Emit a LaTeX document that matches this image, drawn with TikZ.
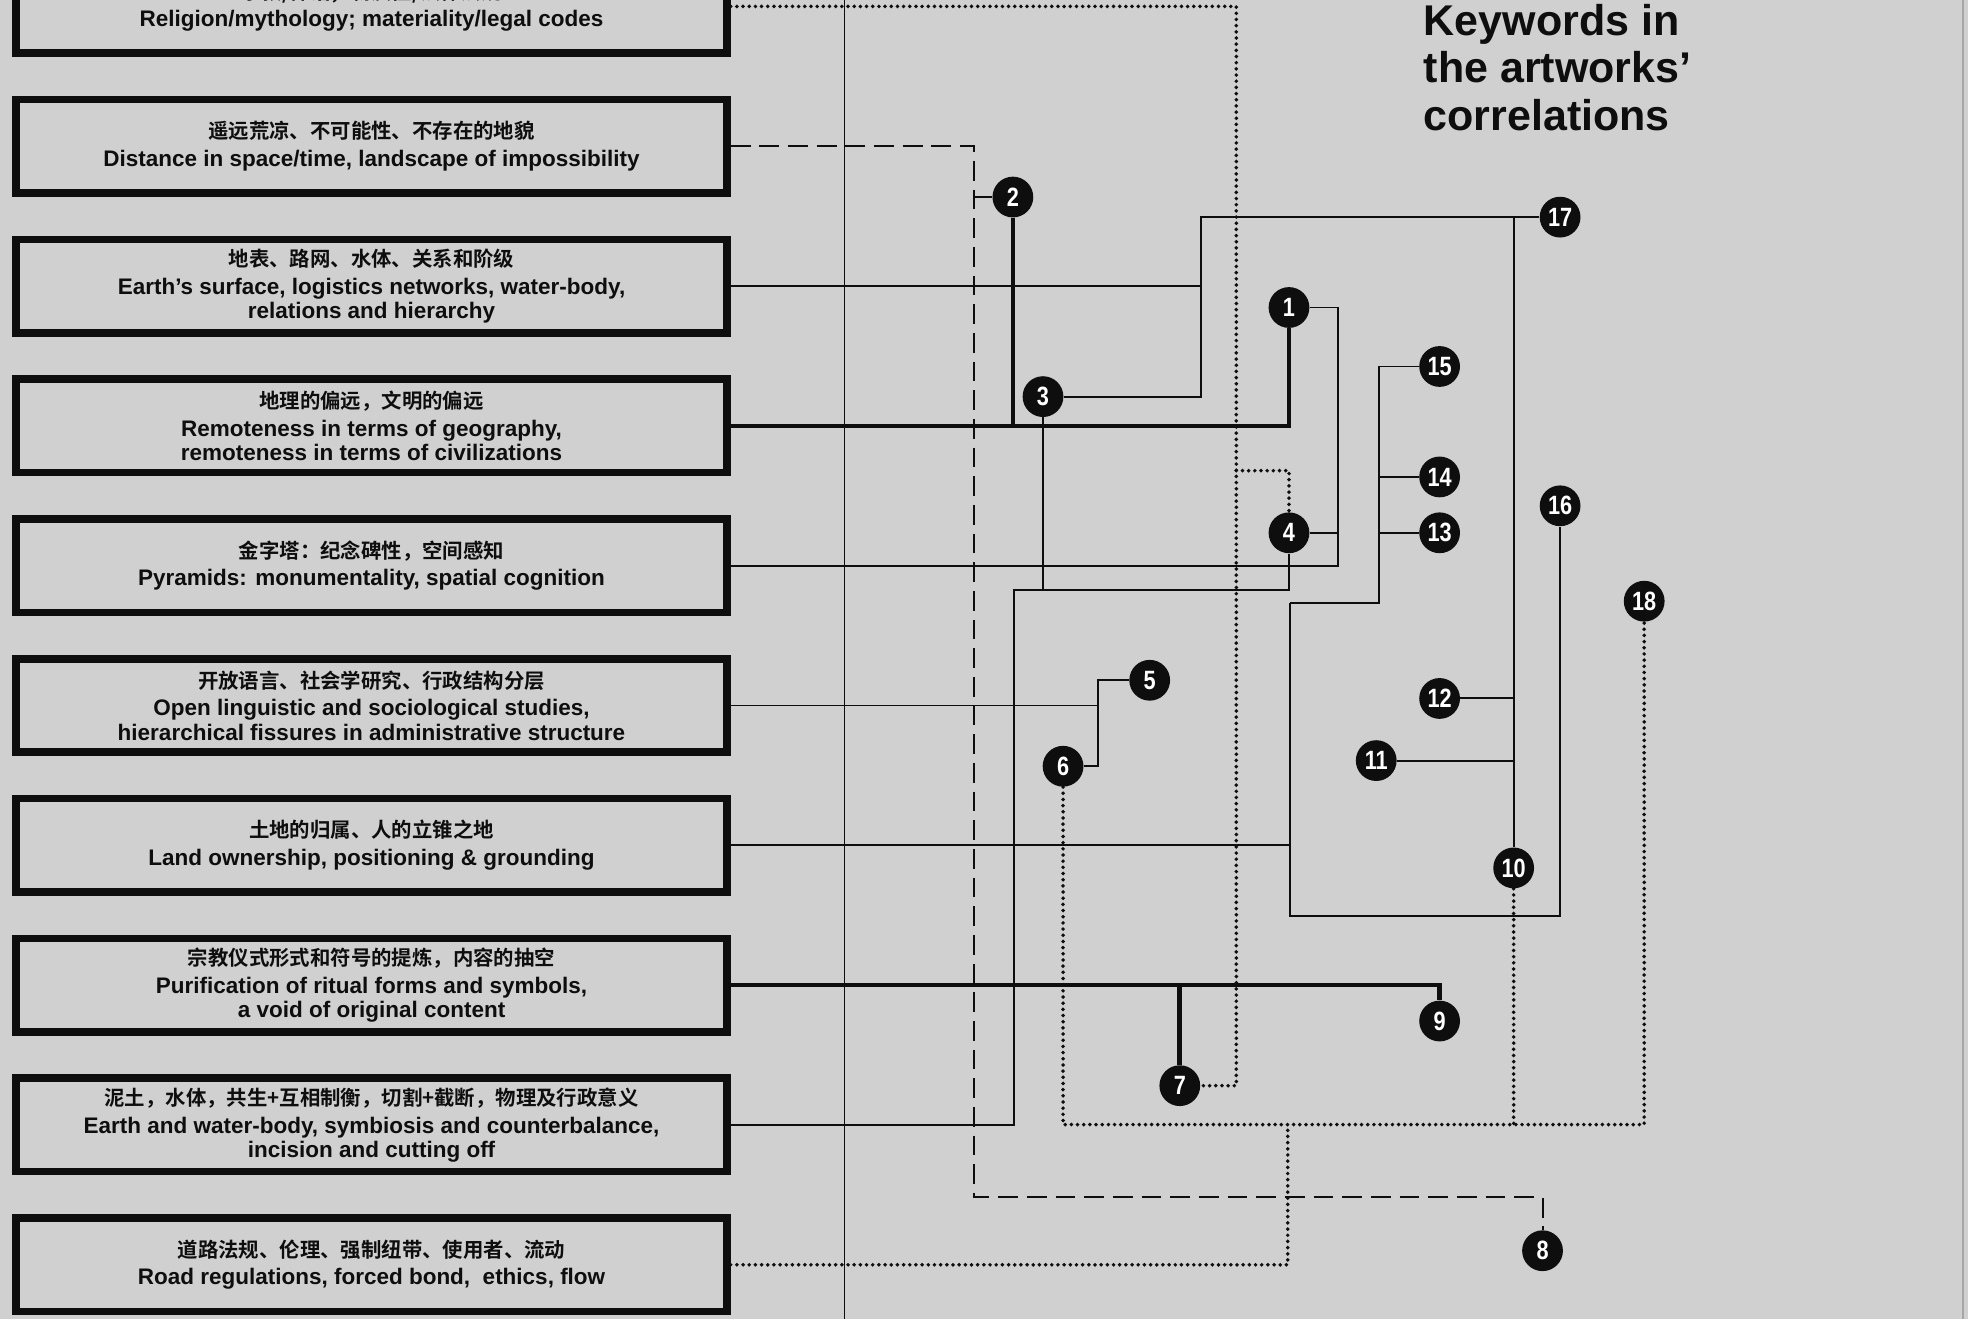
\documentclass[tikz,border=0pt]{standalone}
\usepackage{fontspec}
\setmainfont{Liberation Sans}
\newfontfamily\cjkfont{Noto Sans CJK SC}[BoldFont={* Bold}]
\newfontfamily\numfont{Liberation Sans}[FakeStretch=0.82]
\usetikzlibrary{positioning}
\definecolor{kwpaper}{HTML}{D0D0D0}
\definecolor{kwink}{HTML}{0E0E0E}

\begin{document}
\begin{tikzpicture}[x=0.02cm,y=-0.02cm,
  kwbox/.style={draw=kwink,line width=3.4pt,minimum width=11.33cm,minimum height=1.49cm,align=center,inner sep=0pt,text=kwink,font=\bfseries\fontsize{10.2}{11}\selectfont},
  numdot/.style={circle,fill=kwink,text=white,minimum size=0.65cm,inner sep=0pt,font=\numfont\bfseries\fontsize{12}{12}\selectfont},
  thinln/.style={draw=kwink,line width=0.9pt},
  thickln/.style={draw=kwink,line width=2.1pt},
  dotln/.style={draw=kwink,line width=1.8pt,line cap=round,dash pattern=on 0pt off 2.8pt},
  dashln/.style={draw=kwink,line width=0.9pt,dash pattern=on 9pt off 4pt}]
  \useasboundingbox (0,0) rectangle (1568,1051);
  \fill[kwpaper] (0,0) rectangle (1568,1051);
  \draw[kwink,line width=0.4pt] (673,0) -- (673,1051);
  \draw[black!35,line width=0.5pt] (1564,0) -- (1564,1051);

  % keyword boxes
  \node[kwbox] (k1) at (296,5.1) {{\cjkfont\fontsize{9.25}{11}\selectfont 宗教/神话；物质性/法律法规}\\[1.5pt]Religion/mythology; materiality/legal codes};
  \node[kwbox] (k2) at (296,116.5) {{\cjkfont\fontsize{9.25}{11}\selectfont 遥远荒凉、不可能性、不存在的地貌}\\[1.5pt]Distance in space/time, landscape of impossibility};
  \node[kwbox] (k3) at (296,227.9) {{\cjkfont\fontsize{9.25}{11}\selectfont 地表、路网、水体、关系和阶级}\\[1.5pt]Earth’s surface, logistics networks, water-body,\\relations and hierarchy};
  \node[kwbox] (k4) at (296,339.3) {{\cjkfont\fontsize{9.25}{11}\selectfont 地理的偏远，文明的偏远}\\[1.5pt]Remoteness in terms of geography,\\remoteness in terms of civilizations};
  \node[kwbox] (k5) at (296,450.7) {{\cjkfont\fontsize{9.25}{11}\selectfont 金字塔：纪念碑性，空间感知}\\[1.5pt]Pyramids: monumentality, spatial cognition};
  \node[kwbox] (k6) at (296,562.1) {{\cjkfont\fontsize{9.25}{11}\selectfont 开放语言、社会学研究、行政结构分层}\\[1.5pt]Open linguistic and sociological studies,\\hierarchical fissures in administrative structure};
  \node[kwbox] (k7) at (296,673.5) {{\cjkfont\fontsize{9.25}{11}\selectfont 土地的归属、人的立锥之地}\\[1.5pt]Land ownership, positioning \& grounding};
  \node[kwbox] (k8) at (296,784.9) {{\cjkfont\fontsize{9.25}{11}\selectfont 宗教仪式形式和符号的提炼，内容的抽空}\\[1.5pt]Purification of ritual forms and symbols,\\a void of original content};
  \node[kwbox] (k9) at (296,896.3) {{\cjkfont\fontsize{9.25}{11}\selectfont 泥土，水体，共生+互相制衡，切割+截断，物理及行政意义}\\[1.5pt]Earth and water-body, symbiosis and counterbalance,\\incision and cutting off};
  \node[kwbox] (k10) at (296,1007.7) {{\cjkfont\fontsize{9.25}{11}\selectfont 道路法规、伦理、强制纽带、使用者、流动}\\[1.5pt]Road regulations, forced bond,~ ethics, flow};

  \node[anchor=base west,align=left,inner sep=0pt,text=kwink,font=\bfseries\fontsize{19.5}{21.4}\selectfont] (title) at (1134,103.6) {Keywords in\\the artworks’\\correlations};

  % artwork numbers
  \node[numdot] (n1) at (1027,245) {1};
  \node[numdot] (n2) at (807,157) {2};
  \node[numdot] (n3) at (831,316) {3};
  \node[numdot] (n4) at (1027,424.5) {4};
  \node[numdot] (n5) at (916,542) {5};
  \node[numdot] (n6) at (847,610.5) {6};
  \node[numdot] (n7) at (940,865) {7};
  \node[numdot] (n8) at (1229,996.5) {8};
  \node[numdot] (n9) at (1147,813.5) {9};
  \node[numdot] (n10) at (1206,691.5) {10};
  \node[numdot] (n11) at (1096.5,606) {11};
  \node[numdot] (n12) at (1147,556.5) {12};
  \node[numdot] (n13) at (1147,424.5) {13};
  \node[numdot] (n14) at (1147,380) {14};
  \node[numdot] (n15) at (1147,292) {15};
  \node[numdot] (n16) at (1243,403) {16};
  \node[numdot] (n17) at (1243,173) {17};
  \node[numdot] (n18) at (1310,479) {18};

  % junctions
  \coordinate (j3) at (957,227.9);
  \coordinate (e1) at (776,157);
  \coordinate (e2) at (776,954);
  \coordinate (d4) at (985,375);
  \coordinate (d7) at (985,865);
  \coordinate (j5) at (1066,450.7);
  \coordinate (j6) at (875,562.1);
  \coordinate (j7) at (1028,673.5);
  \coordinate (j7a) at (1028,480.5);
  \coordinate (j7b) at (1028,730);
  \coordinate (j15) at (1099,292);
  \coordinate (j9) at (808,470);
  \coordinate (j17) at (1206,173);
  \coordinate (b6) at (847,896);
  \coordinate (j10) at (1026,896);

  % links
  \draw[dotln] (k1.east) -| (d7) -- (n7);
  \draw[dotln] (d4) -| (n4);
  \draw[dashln] (k2.east) -| (e2) -| (n8);
  \draw[thinln] (e1) -- (n2);
  \draw[thinln] (k3.east) -- (j3) |- (n17);
  \draw[thinln] (j3) |- (n3);
  \draw[thinln] (j17) -- (n10);
  \draw[thinln] (n12) -- (n12 -| j17);
  \draw[thinln] (n11) -- (n11 -| j17);
  \draw[thickln] (k4.east) -| (n1);
  \draw[thickln] (n2) -- (n2 |- k4.east);
  \draw[thinln] (n3) -- (n3 |- j9);
  \draw[thinln] (k9.east) -| (j9) -| (n4);
  \draw[thinln] (k5.east) -- (j5) |- (n1);
  \draw[thinln] (n4) -- (n4 -| j5);
  \draw[thinln] (k6.east) -- (j6) |- (n5);
  \draw[thinln] (j6) |- (n6);
  \draw[thinln] (k7.east) -- (j7);
  \draw[thinln] (j7a) -- (j7b) -| (n16);
  \draw[thinln] (j7a) -| (j15) -- (n15);
  \draw[thinln] (n14) -- (n14 -| j15);
  \draw[thinln] (n13) -- (n13 -| j15);
  \draw[thickln] (k8.east) -| (n9);
  \draw[thickln] (n7) -- (n7 |- k8.east);
  \draw[dotln] (k10.east) -| (j10);
  \draw[dotln] (n6) -- (b6) -| (n18);
  \draw[dotln] (n10) -- (n10 |- b6);
\end{tikzpicture}
\end{document}
